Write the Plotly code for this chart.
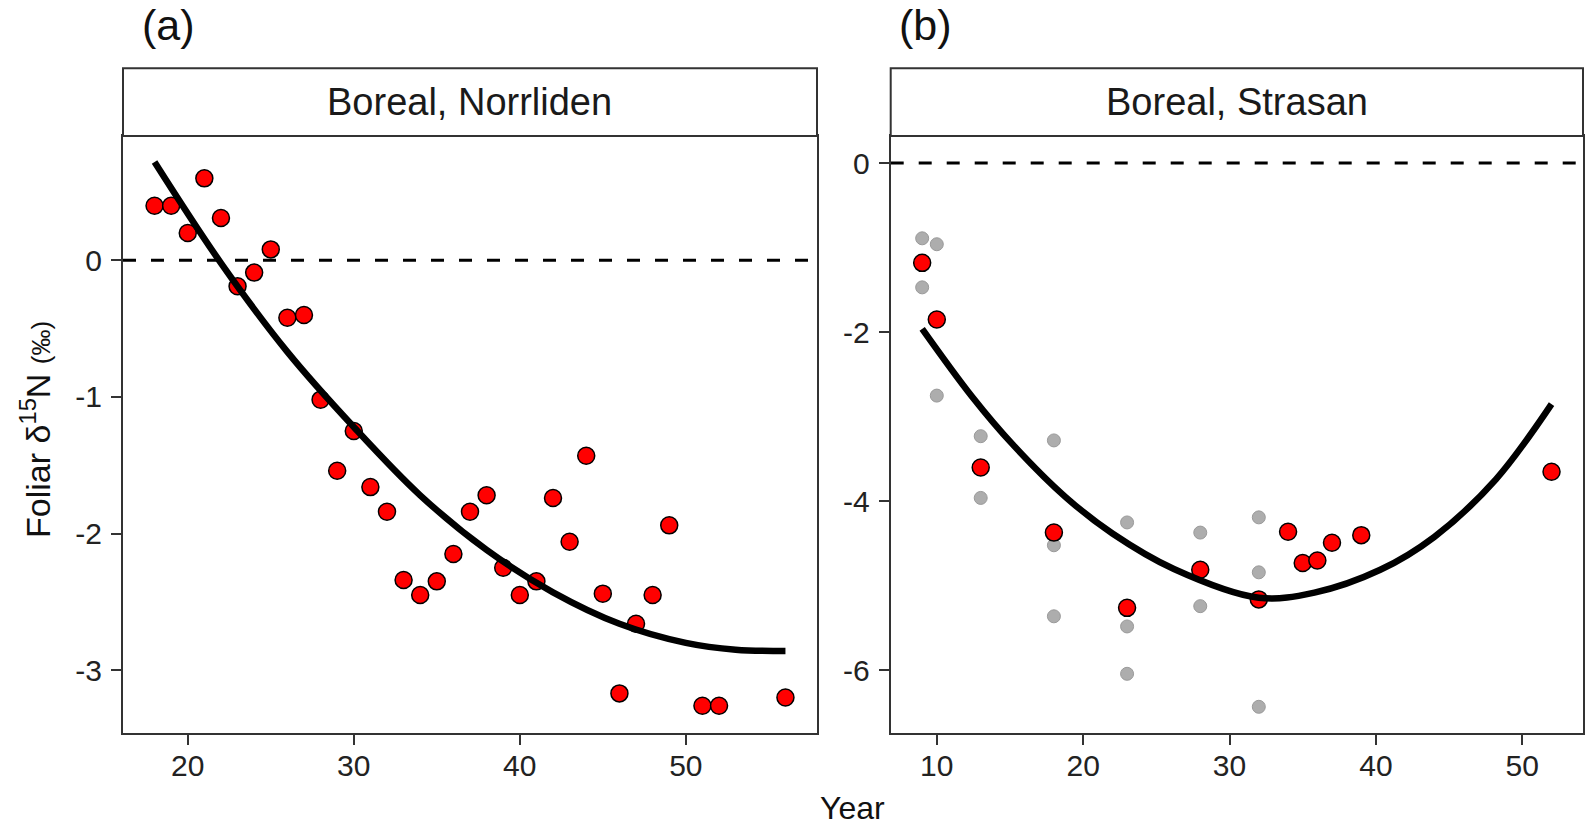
import plotly.graph_objects as go

# ---------------- data ----------------
# Panel (a) Boreal, Norrliden
a_years = [18, 19, 20, 21, 22, 23, 24, 25, 26, 27, 28, 29, 30, 31, 32, 33, 34, 35, 36, 37,
           38, 39, 40, 41, 42, 43, 44, 45, 46, 47, 48, 49, 51, 52, 56]
a_d15n = [0.40, 0.40, 0.20, 0.60, 0.31, -0.19, -0.09, 0.08, -0.42, -0.40, -1.02, -1.54, -1.25,
          -1.66, -1.84, -2.34, -2.45, -2.35, -2.15, -1.84, -1.72, -2.25, -2.45, -2.35, -1.74,
          -2.06, -1.43, -2.44, -3.17, -2.66, -2.45, -1.94, -3.26, -3.26, -3.20]
a_fit_x = [18, 22, 26, 30, 34, 38, 42, 46, 50, 53, 56]
a_fit_y = [0.72, -0.02, -0.67, -1.22, -1.72, -2.12, -2.43, -2.66, -2.80, -2.85, -2.86]

# Panel (b) Boreal, Strasan
b_years = [9, 10, 13, 18, 23, 28, 32, 34, 35, 36, 37, 39, 52]
b_d15n = [-1.18, -1.85, -3.60, -4.37, -5.26, -4.81, -5.16, -4.36, -4.73, -4.70, -4.49, -4.40, -3.65]
b_grey_years = [9, 9, 10, 10, 13, 13, 18, 18, 18, 23, 23, 23, 28, 28, 32, 32, 32]
b_grey_d15n = [-0.89, -1.47, -0.96, -2.75, -3.23, -3.96, -3.28, -4.52, -5.36, -4.25, -5.48, -6.04,
               -4.37, -5.24, -4.19, -4.84, -6.43]
b_fit_x = [9.0, 12.4, 15.2, 18.8, 22.0, 26.2, 32.0, 35.8, 40.3, 44.0, 48.2, 52.0]
b_fit_y = [-1.96, -2.76, -3.33, -3.95, -4.38, -4.80, -5.14, -5.08, -4.81, -4.42, -3.74, -2.85]

reference_level = [0]

a_xticks = [20, 30, 40, 50]
a_yticks = [-3, -2, -1, 0]
a_yticktext = ["-3", "-2", "-1", "0"]
b_xticks = [10, 20, 30, 40, 50]
b_yticks = [-6, -4, -2, 0]
b_yticktext = ["-6", "-4", "-2", "0"]

strip_labels = ["Boreal, Norrliden", "Boreal, Strasan"]
panel_labels = ["(a)", "(b)"]

# ---------------- layout constants ----------------
W, H = 1586, 830
FONT = "Liberation Sans, Arial, sans-serif"
AX_COL = "#333333"

xa_dom = [123 / W, 817 / W]
xb_dom = [890.7 / W, 1583 / W]
y_dom = [1 - 733 / H, 1 - 136 / H]
strip_top = 1 - 68.3 / H

fig = go.Figure()

red_marker = dict(color="#FF0000", size=17, line=dict(color="#000000", width=1.5))
grey_marker = dict(color="#ADADAD", size=13, line=dict(color="#9A9A9A", width=1))
fit_line = dict(color="#000000", width=6.5, shape="spline", smoothing=1.0)

# Panel a
fig.add_trace(go.Scatter(x=a_years, y=a_d15n, mode="markers", marker=red_marker,
                         xaxis="x", yaxis="y", showlegend=False))
fig.add_trace(go.Scatter(x=a_fit_x, y=a_fit_y, mode="lines", line=fit_line,
                         xaxis="x", yaxis="y", showlegend=False))

# Panel b
fig.add_trace(go.Scatter(x=b_grey_years, y=b_grey_d15n, mode="markers", marker=grey_marker,
                         xaxis="x2", yaxis="y2", showlegend=False))
fig.add_trace(go.Scatter(x=b_years, y=b_d15n, mode="markers", marker=red_marker,
                         xaxis="x2", yaxis="y2", showlegend=False))
fig.add_trace(go.Scatter(x=b_fit_x, y=b_fit_y, mode="lines", line=fit_line,
                         xaxis="x2", yaxis="y2", showlegend=False))

# dashed reference lines
for xr, yr in (("x domain", "y"), ("x2 domain", "y2")):
    fig.add_shape(type="line", xref=xr, yref=yr, x0=0, x1=1,
                  y0=reference_level[0], y1=reference_level[0],
                  line=dict(color="#000000", width=3, dash="13px,15px"), layer="below")

# strips
for dom, lab in zip((xa_dom, xb_dom), strip_labels):
    fig.add_shape(type="rect", xref="paper", yref="paper", x0=dom[0], x1=dom[1],
                  y0=y_dom[1], y1=strip_top, fillcolor="white",
                  line=dict(color=AX_COL, width=2))
    fig.add_annotation(xref="paper", yref="paper", x=(dom[0] + dom[1]) / 2,
                       y=(y_dom[1] + strip_top) / 2, text=lab, showarrow=False,
                       font=dict(family=FONT, size=38, color="#1a1a1a"),
                       xanchor="center", yanchor="middle")

# panel labels
for xc, lab in zip((168, 925), panel_labels):
    fig.add_annotation(xref="paper", yref="paper", x=xc / W, y=1.0, text=lab,
                       showarrow=False, font=dict(family=FONT, size=43, color="#111111"),
                       xanchor="center", yanchor="top", borderpad=0)

# axis titles
fig.add_annotation(xref="paper", yref="paper", x=35 / W, y=1 - 430 / H,
                   text="Foliar δ<sup>15</sup>N <span style='font-size:26px'>(‰)</span>",
                   textangle=-90, showarrow=False,
                   font=dict(family=FONT, size=34, color="#111111"),
                   xanchor="center", yanchor="middle")
fig.add_annotation(xref="paper", yref="paper", x=853 / W, y=1 - 808 / H, text="Year",
                   showarrow=False, font=dict(family=FONT, size=32, color="#111111"),
                   xanchor="center", yanchor="middle")

axis_common = dict(showgrid=False, zeroline=False, showline=True, mirror=True,
                   linecolor=AX_COL, linewidth=2, ticks="outside", ticklen=10,
                   tickwidth=2, tickcolor=AX_COL,
                   tickfont=dict(family=FONT, size=30, color="#222222"))

fig.update_layout(
    width=W, height=H,
    margin=dict(l=0, r=0, t=0, b=0),
    paper_bgcolor="white", plot_bgcolor="white",
    xaxis=dict(domain=xa_dom, range=[16.1, 57.9], tickvals=a_xticks, anchor="y",
               ticklabelstandoff=-5, **axis_common),
    yaxis=dict(domain=y_dom, range=[-3.46, 0.91], tickvals=a_yticks, ticktext=a_yticktext,
               anchor="x", ticklabelstandoff=3, **axis_common),
    xaxis2=dict(domain=xb_dom, range=[6.85, 54.15], tickvals=b_xticks, anchor="y2",
                ticklabelstandoff=-5, **axis_common),
    yaxis2=dict(domain=y_dom, range=[-6.74, 0.32], tickvals=b_yticks, ticktext=b_yticktext,
                anchor="x2", ticklabelstandoff=3, **axis_common),
)

fig.write_html("out.html", config={"displayModeBar": False},
               post_script="document.body.style.margin='0px';document.body.style.overflow='hidden';")
